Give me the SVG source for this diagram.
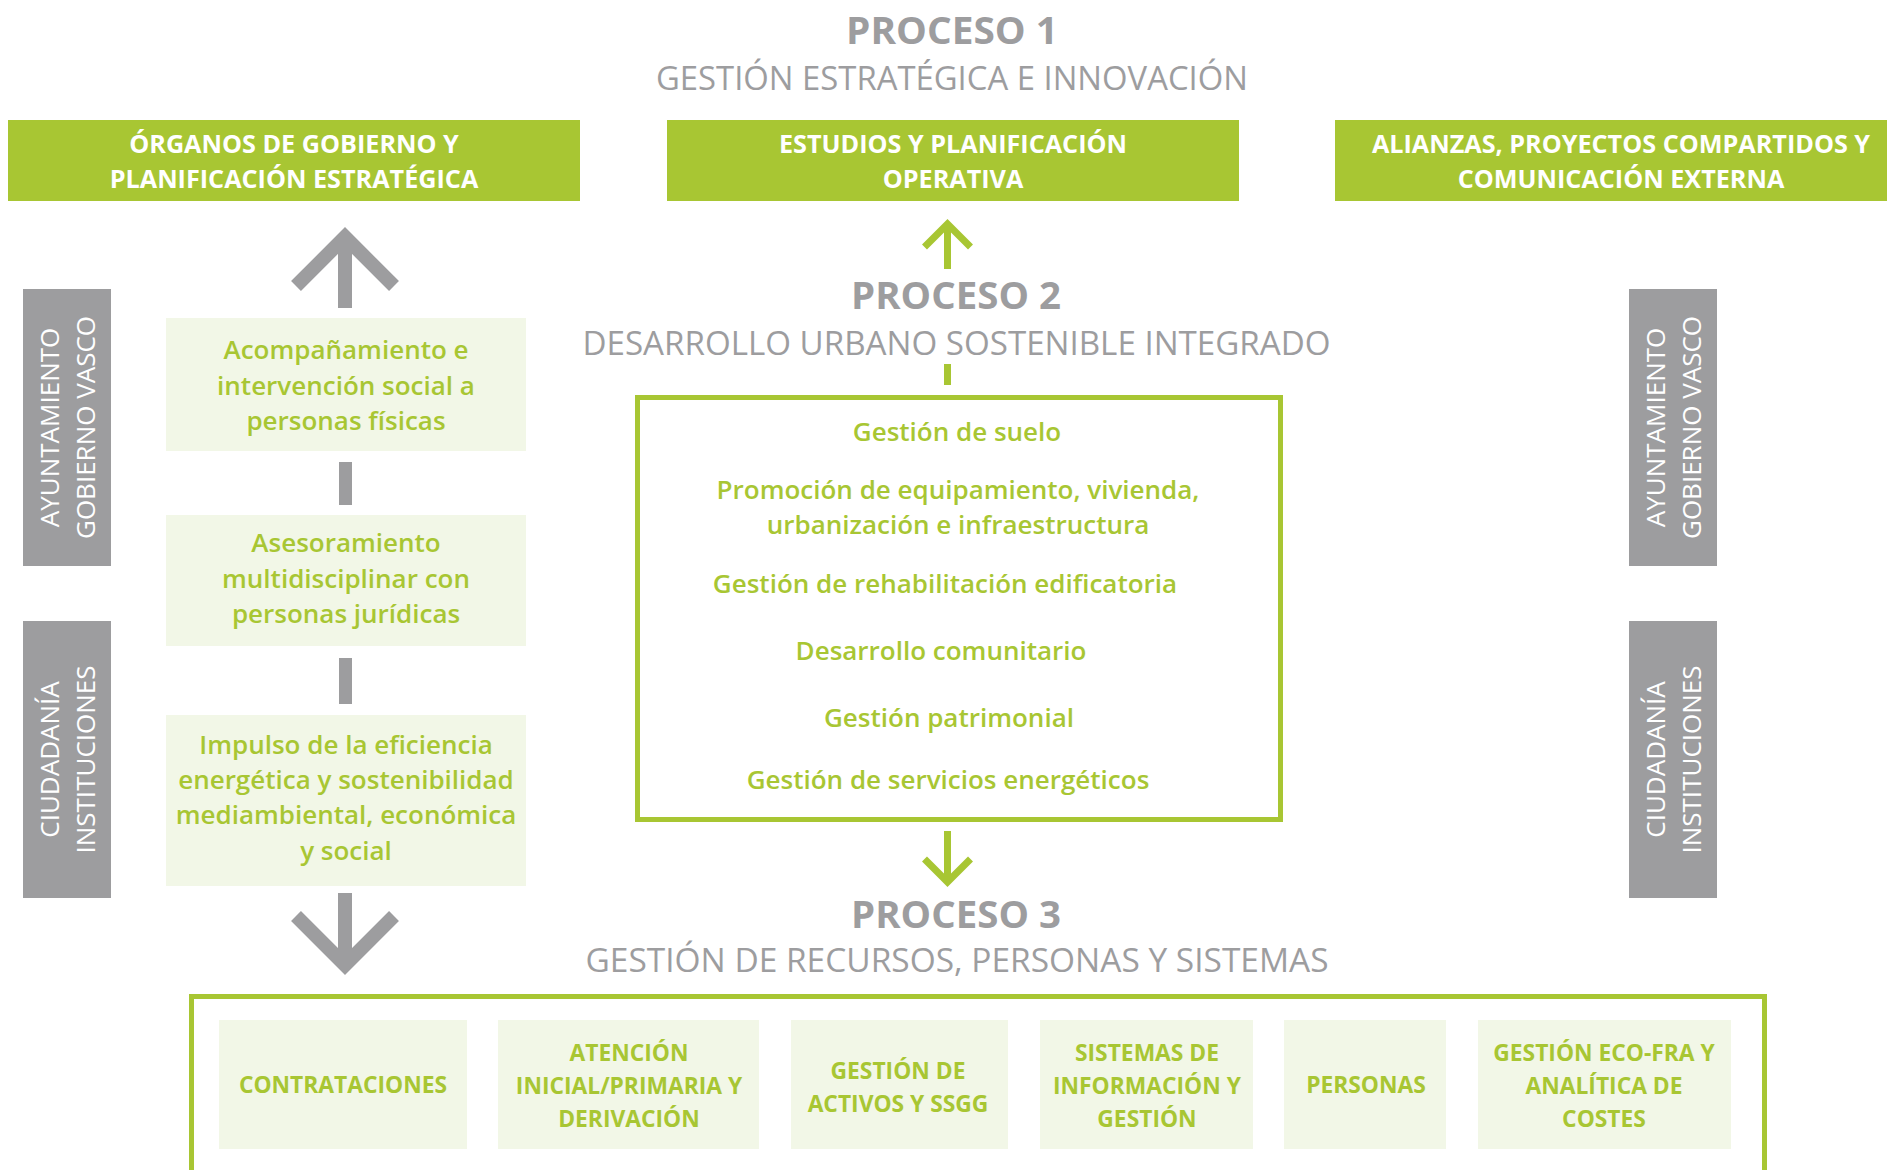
<svg xmlns="http://www.w3.org/2000/svg" width="1887" height="1170" viewBox="0 0 1887 1170">
<defs>
<style>
text { font-family: "Open Sans", "Noto Sans", "DejaVu Sans", sans-serif; text-anchor: middle; }
.bg { fill: #ffffff; }
.t1 { font-size: 38px; font-weight: 700; fill: #9d9d9f; }
.t2 { font-size: 33px; font-weight: 400; fill: #9d9d9f; }
.gbox { fill: #a8c633; }
.gbt { font-size: 25.2px; font-weight: 700; fill: #ffffff; }
.lbox { fill: #f2f7e7; }
.lt { font-size: 26px; font-weight: 600; fill: #a8c633; }
.gray { fill: #9d9d9f; }
.vt { font-size: 26px; font-weight: 400; fill: #ffffff; }
.bt { font-size: 22.8px; font-weight: 700; fill: #a8c633; }
.frame { fill: none; stroke: #a8c633; stroke-width: 5; }
.garrow { fill: none; stroke: #9d9d9f; stroke-width: 14; stroke-linecap: butt; stroke-linejoin: miter; }
.carrow { fill: none; stroke: #a8c633; stroke-width: 7; stroke-linecap: butt; stroke-linejoin: miter; }
</style>
</defs>
<rect class="bg" x="0" y="0" width="1887" height="1170"/>

<g id="proceso1">
<text class="t1" x="952" y="44" textLength="212" lengthAdjust="spacingAndGlyphs">PROCESO 1</text>
<text class="t2" x="952" y="90" textLength="592" lengthAdjust="spacingAndGlyphs">GESTIÓN ESTRATÉGICA E INNOVACIÓN</text>
</g>

<g id="organos">
<rect class="gbox" x="8" y="120" width="572" height="81"/>
<text class="gbt" x="294" y="153">ÓRGANOS DE GOBIERNO Y</text>
<text class="gbt" x="294" y="187.5">PLANIFICACIÓN ESTRATÉGICA</text>
</g>
<g id="estudios">
<rect class="gbox" x="667" y="120" width="572" height="81"/>
<text class="gbt" x="953" y="153">ESTUDIOS Y PLANIFICACIÓN</text>
<text class="gbt" x="953" y="187.5">OPERATIVA</text>
</g>
<g id="alianzas">
<rect class="gbox" x="1335" y="120" width="572" height="81"/>
<text class="gbt" x="1621" y="153">ALIANZAS, PROYECTOS COMPARTIDOS Y</text>
<text class="gbt" x="1621" y="187.5">COMUNICACIÓN EXTERNA</text>
</g>

<g id="proceso2">
<text class="t1" x="956" y="309" textLength="210" lengthAdjust="spacingAndGlyphs">PROCESO 2</text>
<text class="t2" x="956.5" y="354.5" textLength="748" lengthAdjust="spacingAndGlyphs">DESARROLLO URBANO SOSTENIBLE INTEGRADO</text>
</g>

<g id="proceso2-box">
<rect class="frame" x="637.5" y="397.5" width="643" height="422"/>
<text class="lt" x="957" y="440.5">Gestión de suelo</text>
<text class="lt" x="958" y="498.5">Promoción de equipamiento, vivienda,</text>
<text class="lt" x="958" y="534">urbanización e infraestructura</text>
<text class="lt" x="945" y="593">Gestión de rehabilitación edificatoria</text>
<text class="lt" x="941" y="659.5">Desarrollo comunitario</text>
<text class="lt" x="949" y="727">Gestión patrimonial</text>
<text class="lt" x="948" y="789">Gestión de servicios energéticos</text>
</g>

<g id="acompanamiento">
<rect class="lbox" x="166" y="318" width="360" height="133"/>
<text class="lt" x="346" y="359">Acompañamiento e</text>
<text class="lt" x="346" y="395">intervención social a</text>
<text class="lt" x="346" y="430">personas físicas</text>
</g>
<g id="asesoramiento">
<rect class="lbox" x="166" y="515" width="360" height="131"/>
<text class="lt" x="346" y="552">Asesoramiento</text>
<text class="lt" x="346" y="588">multidisciplinar con</text>
<text class="lt" x="346" y="623">personas jurídicas</text>
</g>
<g id="impulso">
<rect class="lbox" x="166" y="715" width="360" height="171"/>
<text class="lt" x="346" y="753.5">Impulso de la eficiencia</text>
<text class="lt" x="346" y="788.5">energética y sostenibilidad</text>
<text class="lt" x="346" y="824">mediambiental, económica</text>
<text class="lt" x="346" y="859.5">y social</text>
</g>

<g id="ayuntamiento-izq">
<rect class="gray" x="23" y="289" width="88" height="277"/>
<text class="vt" transform="translate(59 427.5) rotate(-90)">AYUNTAMIENTO</text>
<text class="vt" transform="translate(95 427.5) rotate(-90)">GOBIERNO VASCO</text>
</g>
<g id="ciudadania-izq">
<rect class="gray" x="23" y="621" width="88" height="277"/>
<text class="vt" transform="translate(59 759.5) rotate(-90)">CIUDADANÍA</text>
<text class="vt" transform="translate(95 759.5) rotate(-90)">INSTITUCIONES</text>
</g>
<g id="ayuntamiento-der">
<rect class="gray" x="1629" y="289" width="88" height="277"/>
<text class="vt" transform="translate(1665 427.5) rotate(-90)">AYUNTAMIENTO</text>
<text class="vt" transform="translate(1701 427.5) rotate(-90)">GOBIERNO VASCO</text>
</g>
<g id="ciudadania-der">
<rect class="gray" x="1629" y="621" width="88" height="277"/>
<text class="vt" transform="translate(1665 759.5) rotate(-90)">CIUDADANÍA</text>
<text class="vt" transform="translate(1701 759.5) rotate(-90)">INSTITUCIONES</text>
</g>

<g id="proceso3">
<text class="t1" x="956" y="927.5" textLength="210" lengthAdjust="spacingAndGlyphs">PROCESO 3</text>
<text class="t2" x="957" y="972" textLength="743" lengthAdjust="spacingAndGlyphs">GESTIÓN DE RECURSOS, PERSONAS Y SISTEMAS</text>
</g>

<g id="proceso3-box">
<rect class="frame" x="191.5" y="996.5" width="1573" height="300"/>
</g>
<g id="contrataciones">
<rect class="lbox" x="219" y="1020" width="248" height="129"/>
<text class="bt" x="343" y="1093">CONTRATACIONES</text>
</g>
<g id="atencion">
<rect class="lbox" x="498" y="1020" width="261" height="129"/>
<text class="bt" x="629" y="1061">ATENCIÓN</text>
<text class="bt" x="629" y="1094">INICIAL/PRIMARIA Y</text>
<text class="bt" x="629" y="1127">DERIVACIÓN</text>
</g>
<g id="activos">
<rect class="lbox" x="791" y="1020" width="217" height="129"/>
<text class="bt" x="898" y="1079">GESTIÓN DE</text>
<text class="bt" x="898" y="1112">ACTIVOS Y SSGG</text>
</g>
<g id="sistemas">
<rect class="lbox" x="1040" y="1020" width="213" height="129"/>
<text class="bt" x="1147" y="1061">SISTEMAS DE</text>
<text class="bt" x="1147" y="1094">INFORMACIÓN Y</text>
<text class="bt" x="1147" y="1127">GESTIÓN</text>
</g>
<g id="personas">
<rect class="lbox" x="1284" y="1020" width="162" height="129"/>
<text class="bt" x="1366" y="1093">PERSONAS</text>
</g>
<g id="ecofra">
<rect class="lbox" x="1478" y="1020" width="253" height="129"/>
<text class="bt" x="1604" y="1061">GESTIÓN ECO-FRA Y</text>
<text class="bt" x="1604" y="1094">ANALÍTICA DE</text>
<text class="bt" x="1604" y="1127">COSTES</text>
</g>

<g id="connectors">
<line class="garrow" x1="345" y1="308" x2="345" y2="237"/>
<polyline class="garrow" points="296,286 345,237 394,286"/>
<rect class="gray" x="339" y="462" width="13" height="43"/>
<rect class="gray" x="339" y="658" width="13" height="46"/>
<line class="garrow" x1="345" y1="893" x2="345" y2="965"/>
<polyline class="garrow" points="296,916 345,965 394,916"/>
<line class="carrow" x1="947.5" y1="269" x2="947.5" y2="224"/>
<polyline class="carrow" points="924.5,247 947.5,224 970.5,247"/>
<line class="carrow" x1="947.5" y1="364" x2="947.5" y2="385"/>
<line class="carrow" x1="947.5" y1="831" x2="947.5" y2="882"/>
<polyline class="carrow" points="924.5,859 947.5,882 970.5,859"/>
</g>
</svg>
